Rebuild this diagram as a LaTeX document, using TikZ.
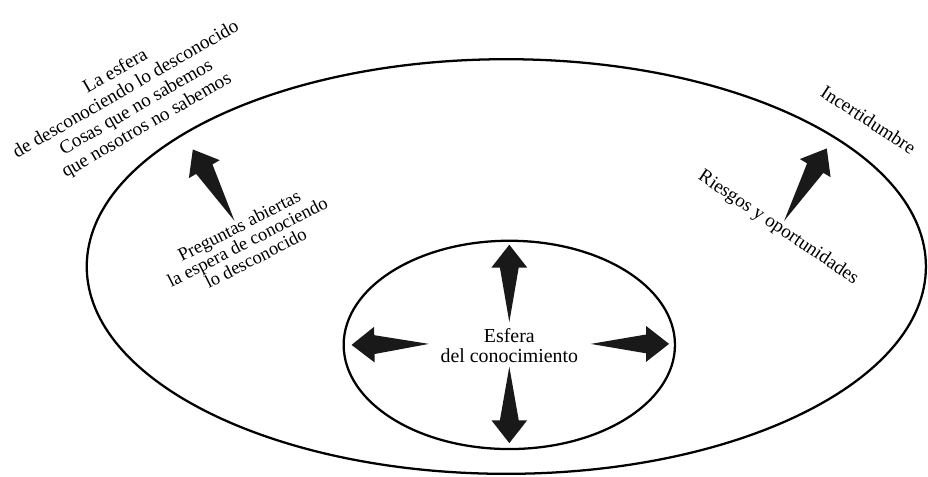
\documentclass[tikz,border=0pt]{standalone}
\usepackage{fontspec}
\setmainfont{Liberation Serif}
\usetikzlibrary{calc,shapes.geometric}

% a fat arrow from a tail point #1 to a tip #2
\newcommand{\fatarrow}[2]{%
  \coordinate (h) at ($(#2)!0.46cm!(#1)$);
  \fill[black!90] (#1) -- ($(h)!0.19cm!90:(#2)$) -- ($(h)!0.36cm!90:(#2)$) -- (#2)
    -- ($(h)!0.36cm!-90:(#2)$) -- ($(h)!0.19cm!-90:(#2)$) -- cycle;}

\begin{document}
\begin{tikzpicture}
  [x=0.02cm,y=-0.02cm,
   sphere/.style={ellipse,draw=black,line width=1.3pt,inner sep=0pt},
   label/.style={align=center,inner sep=0pt,font=\fontsize{11}{11.9}\selectfont}]
\path (0,0) rectangle (928,468); % frame of the picture
\node at (503,256) (outer) [sphere, minimum width=16.92cm, minimum height=8.36cm] {};
\node at (506,335) (inner) [sphere, minimum width=6.68cm, minimum height=4.2cm] {};
%
\node at (506,336) (known) [label, font=\fontsize{11.4}{11.4}\selectfont] {Esfera\\del conocimiento};
\node at (125,87) (unknown) [label, rotate=30]
  {La esfera\\de desconociendo lo desconocido\\Cosas que no sabemos\\que nosotros no sabemos};
\node at (242,231) (questions) [label, rotate=27, font=\fontsize{10.6}{10.4}\selectfont]
  {Preguntas abiertas\\la espera de conociendo\\lo desconocido};
\node at (868,108) (uncertainty) [label, rotate=-33] {Incertidumbre};
\node at (777,217) (risks) [label, rotate=-34] {Riesgos y oportunidades};
%
\coordinate (up-tail) at (506,312);    \coordinate (up-tip) at (506,234);
\coordinate (down-tail) at (506,357);  \coordinate (down-tip) at (506,434);
\coordinate (left-tail) at (425,334);  \coordinate (left-tip) at (347,335);
\coordinate (right-tail) at (588,334); \coordinate (right-tip) at (667,334);
\coordinate (q-tail) at (229,210);     \coordinate (q-tip) at (187,138);
\coordinate (r-tail) at (783,210);     \coordinate (r-tip) at (826,137);
%
\fatarrow{up-tail}{up-tip}
\fatarrow{down-tail}{down-tip}
\fatarrow{left-tail}{left-tip}
\fatarrow{right-tail}{right-tip}
\fatarrow{q-tail}{q-tip}
\fatarrow{r-tail}{r-tip}
\end{tikzpicture}
\end{document}
